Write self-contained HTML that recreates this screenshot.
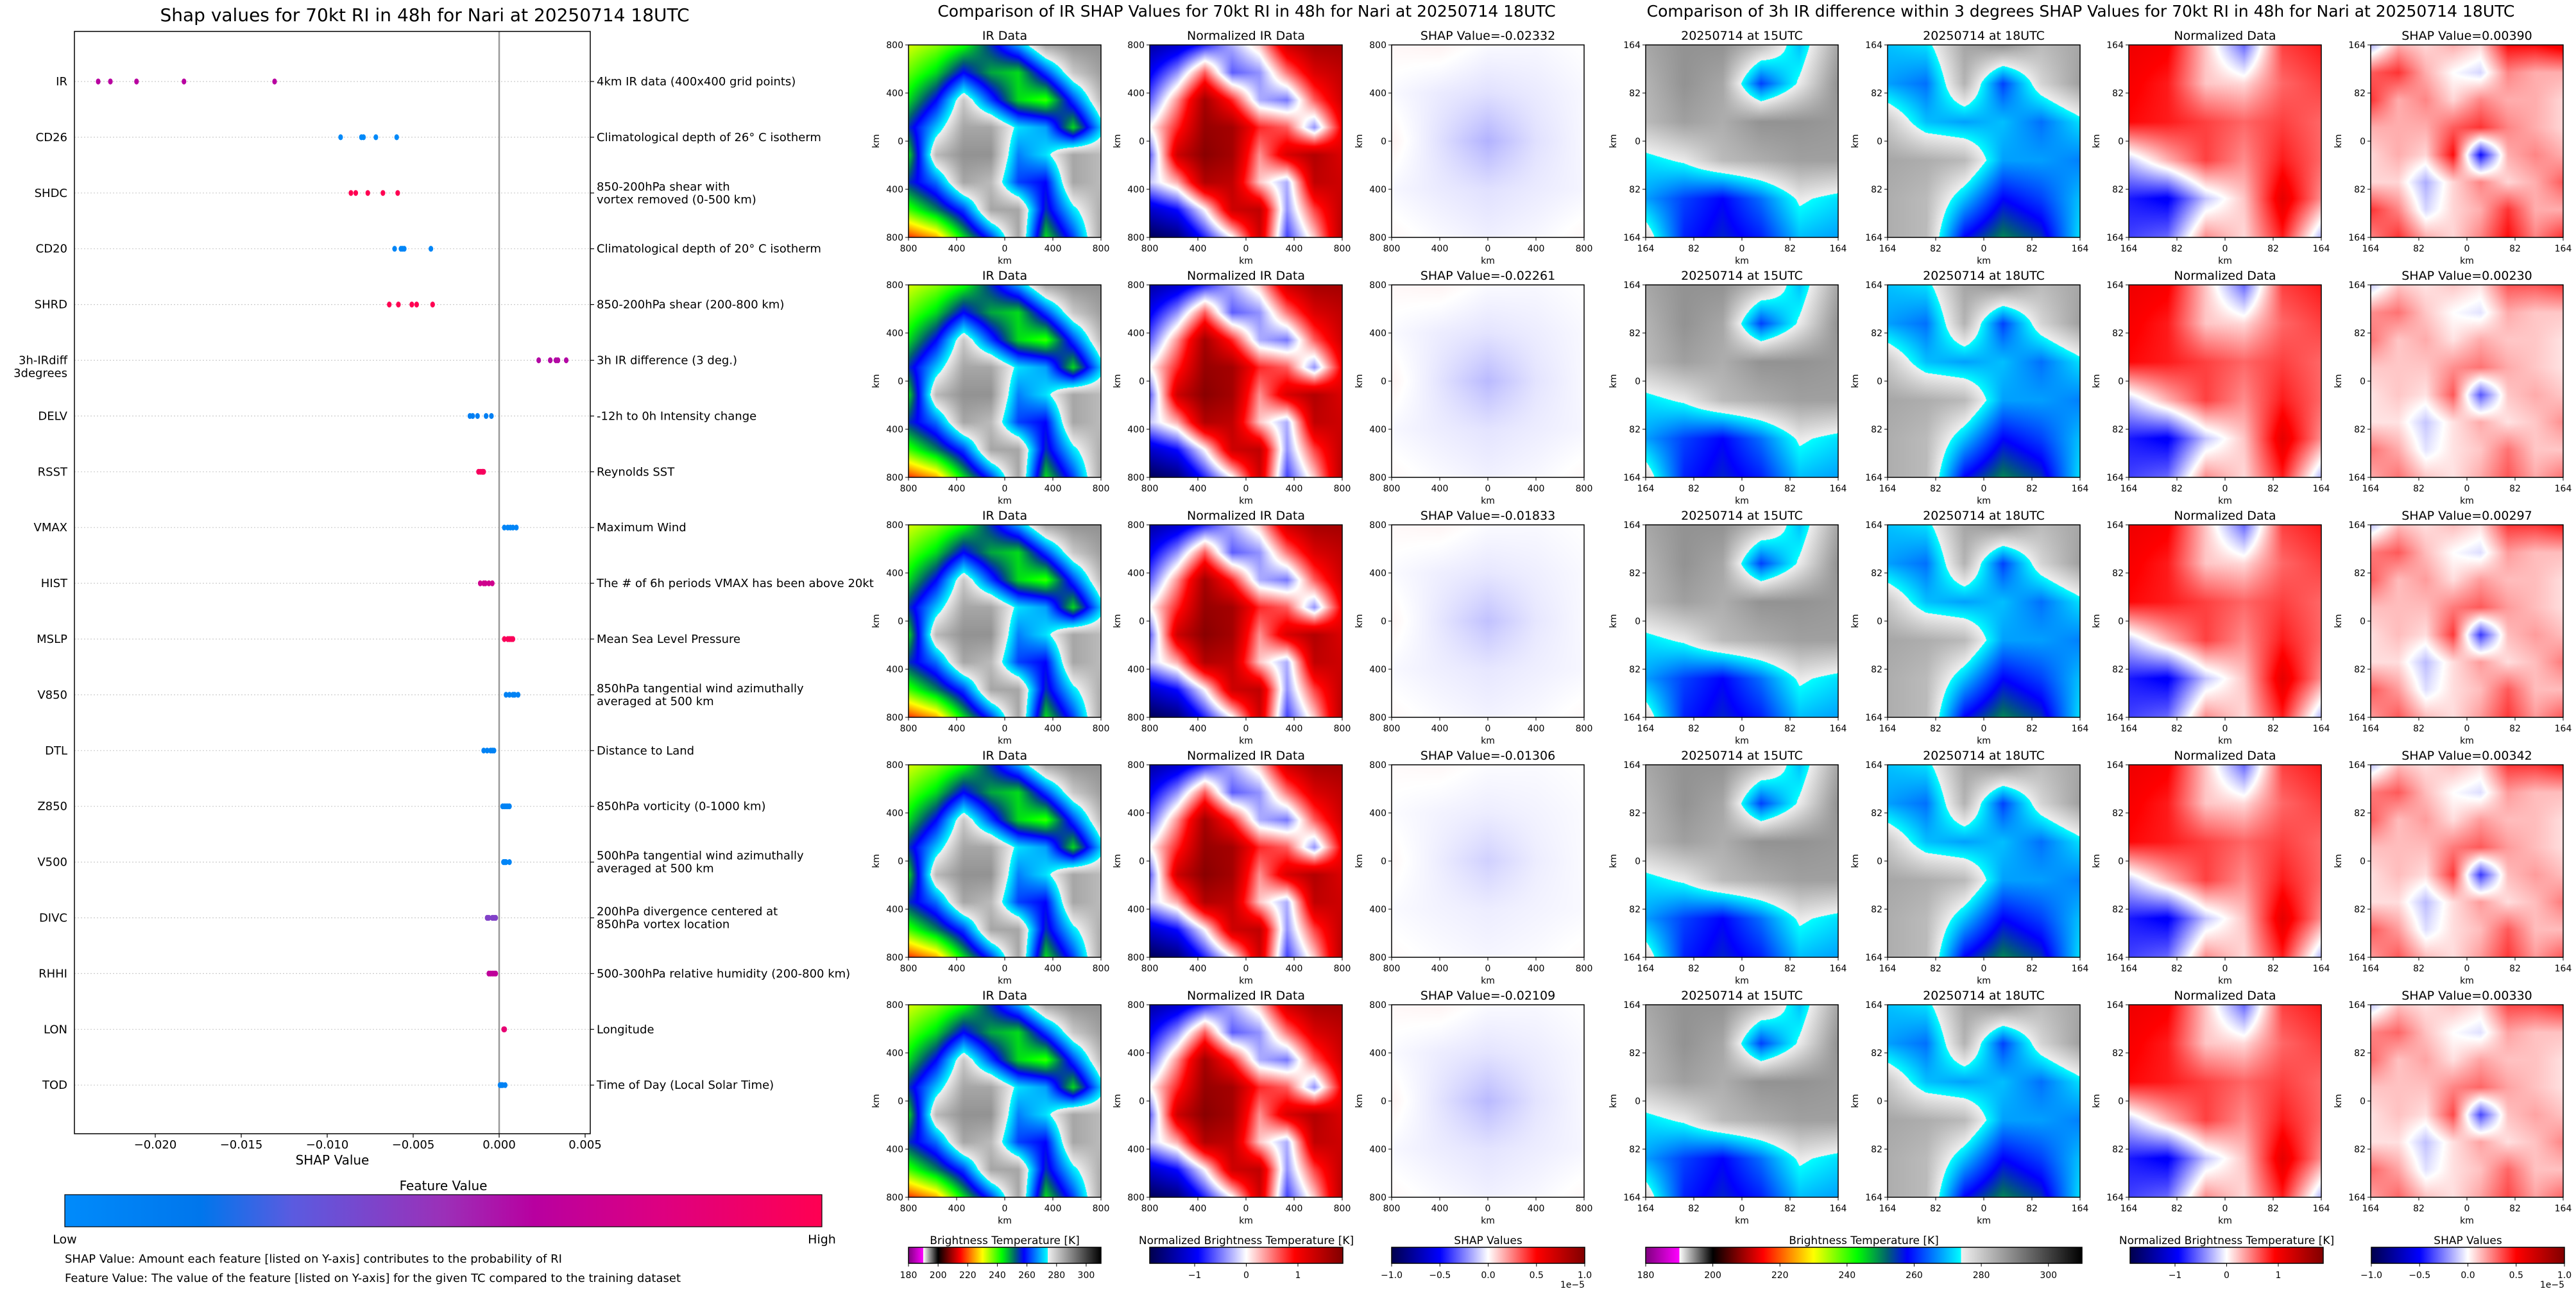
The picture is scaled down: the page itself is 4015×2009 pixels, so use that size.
<!DOCTYPE html>
<html><head><meta charset="utf-8">
<style>
html,body{margin:0;padding:0;background:#fff;}
#root{position:relative;width:4015px;height:2009px;overflow:hidden;background:#fff;font-family:"DejaVu Sans","Liberation Sans",sans-serif;}
canvas{position:absolute;}
#ov{position:absolute;left:0;top:0;}
</style></head>
<body>
<div id="root">
<svg id="ov" width="4015" height="2009" xmlns="http://www.w3.org/2000/svg" font-family="DejaVu Sans, Liberation Sans, sans-serif"></svg>
</div>
<script>
// ---------- SHAP summary chart data ----------
const features = ["IR","CD26","SHDC","CD20","SHRD","3h-IRdiff|3degrees","DELV","RSST","VMAX","HIST","MSLP","V850","DTL","Z850","V500","DIVC","RHHI","LON","TOD"];
const descriptions = ["4km IR data (400x400 grid points)","Climatological depth of 26° C isotherm","850-200hPa shear with|vortex removed (0-500 km)","Climatological depth of 20° C isotherm","850-200hPa shear (200-800 km)","3h IR difference (3 deg.)","-12h to 0h Intensity change","Reynolds SST","Maximum Wind","The # of 6h periods VMAX has been above 20kt","Mean Sea Level Pressure","850hPa tangential wind azimuthally|averaged at 500 km","Distance to Land","850hPa vorticity (0-1000 km)","500hPa tangential wind azimuthally|averaged at 500 km","200hPa divergence centered at|850hPa vortex location","500-300hPa relative humidity (200-800 km)","Longitude","Time of Day (Local Solar Time)"];
const shapIR = [-0.02332,-0.02261,-0.02109,-0.01833,-0.01306];
const shapCD26 = [-0.00922,-0.00801,-0.00789,-0.00717,-0.00596];
const shapSHDC = [-0.00862,-0.00834,-0.00764,-0.00676,-0.00590];
const shapCD20 = [-0.00608,-0.00571,-0.00562,-0.00552,-0.00397];
const shapSHRD = [-0.00639,-0.00586,-0.00508,-0.00480,-0.00387];
const shapIRdiff = [0.00230,0.00297,0.00330,0.00342,0.00390];
const shapDELV = [-0.00170,-0.00154,-0.00126,-0.00076,-0.00045];
const shapRSST = [-0.00120,-0.00110,-0.00100,-0.00095,-0.00090];
const shapVMAX = [0.00030,0.00050,0.00065,0.00080,0.00100];
const shapHIST = [-0.00110,-0.00090,-0.00080,-0.00060,-0.00040];
const shapMSLP = [0.00030,0.00050,0.00060,0.00070,0.00080];
const shapV850 = [0.00040,0.00060,0.00080,0.00090,0.00110];
const shapDTL = [-0.00090,-0.00070,-0.00050,-0.00040,-0.00030];
const shapZ850 = [0.00020,0.00030,0.00040,0.00050,0.00060];
const shapV500 = [0.00025,0.00030,0.00035,0.00040,0.00060];
const shapDIVC = [-0.00070,-0.00060,-0.00040,-0.00030,-0.00020];
const shapRHHI = [-0.00060,-0.00050,-0.00040,-0.00030,-0.00020];
const shapLON = [0.00026,0.00028,0.00030,0.00030,0.00032];
const shapTOD = [0.00005,0.00010,0.00015,0.00020,0.00035];
const featureLevel = [0.62,0.02,1.0,0.05,1.0,0.6,0.1,0.95,0.05,0.72,0.97,0.08,0.08,0.08,0.05,0.42,0.65,0.85,0.08];
const xTicks = [-0.020,-0.015,-0.010,-0.005,0.000,0.005];
// panel SHAP values
const irShapTitles = [-0.02332,-0.02261,-0.01833,-0.01306,-0.02109];
const diffShapTitles = [0.00390,0.00230,0.00297,0.00342,0.00330];
// coarse image fields (top row first)
const gridIR = [
[232,236,242,255,268,285,288,288],
[238,245,258,248,245,262,280,286],
[245,258,280,262,245,240,262,282],
[255,270,285,285,272,268,245,270],
[245,282,288,288,266,272,285,282],
[255,265,285,282,262,258,285,282],
[240,250,262,285,285,255,272,284],
[218,225,245,262,285,245,262,285]];
const gridNorm = [
[-1.4,-1.2,-0.8,-0.3,0.2,1.3,1.6,1.6],
[-1.0,-0.4,0.6,-0.6,-0.4,0.5,1.2,1.4],
[-0.6,0.4,1.6,0.8,-0.3,-0.5,0.6,1.3],
[0.0,0.8,1.7,1.6,0.8,0.6,-0.4,1.0],
[-0.6,1.3,1.8,1.6,0.4,1.2,1.5,1.2],
[-0.2,0.3,1.5,1.4,0.2,-0.3,1.4,1.3],
[-1.2,-0.9,0.0,1.3,1.4,-0.4,0.7,1.4],
[-1.8,-1.6,-0.8,0.0,1.3,-0.7,0.2,1.5]];
const gridIRShap = [
[0.03,0.05,-0.02,-0.03,0.00],
[-0.02,-0.08,-0.12,-0.08,-0.03],
[0.05,-0.12,-0.30,-0.12,-0.03],
[-0.03,-0.08,-0.12,-0.08,-0.04],
[0.03,-0.02,-0.06,-0.03,0.03]];
const grid15 = [
[285,288,288,282,270,285],
[283,288,285,262,275,288],
[282,286,284,288,288,287],
[272,275,282,284,286,286],
[268,262,258,265,275,272],
[278,260,256,260,270,268]];
const grid18 = [
[270,272,285,288,282,285],
[268,265,283,262,278,286],
[280,270,268,270,265,272],
[285,284,282,268,268,266],
[284,282,270,258,262,270],
[284,282,258,250,255,272]];
const gridDiffNorm = [
[1.5,1.4,0.3,-0.8,1.0,1.2],
[1.4,1.2,0.3,0.2,0.8,1.0],
[1.3,1.2,1.0,0.8,1.0,0.8],
[-0.3,0.4,1.0,0.6,1.2,0.8],
[-1.2,-1.4,-0.3,0.3,1.6,0.6],
[-1.0,-0.8,0.6,0.2,1.2,-0.4]];
const gridDiffShap = [
[-0.2,0.2,0.1,0.2,0.1,0.6,0.6,0.7],
[0.4,0.5,0.2,0.0,-0.1,0.3,0.2,0.2],
[0.5,0.2,0.3,0.1,0.3,0.2,0.2,0.1],
[0.2,0.2,0.2,0.4,0.5,0.3,0.2,0.1],
[0.1,0.2,0.1,0.6,-0.6,0.2,0.3,0.2],
[0.1,0.1,-0.2,0.1,0.3,0.1,0.2,0.4],
[0.5,0.3,-0.1,0.1,0.2,0.5,0.2,0.2],
[0.3,0.5,0.2,0.1,0.3,0.6,0.3,0.5]];
const diffShapScale = [0.8,0.55,0.65,0.65,0.6];
const irShapScale = [0.5,0.45,0.4,0.3,0.45];

const allShap = [shapIR,shapCD26,shapSHDC,shapCD20,shapSHRD,shapIRdiff,shapDELV,shapRSST,shapVMAX,shapHIST,shapMSLP,shapV850,shapDTL,shapZ850,shapV500,shapDIVC,shapRHHI,shapLON,shapTOD];

const NS = "http://www.w3.org/2000/svg";
const svg = document.getElementById('ov');
const root = document.getElementById('root');
function mk(tag, attrs, parent){const e=document.createElementNS(NS,tag);for(const k in attrs)e.setAttribute(k,attrs[k]);(parent||svg).appendChild(e);return e;}
function txt(s, attrs, parent){const e=mk('text',attrs,parent);e.textContent=s;return e;}

// ---------- left chart axes ----------
const AX = {l:116, r:920, t:49, b:1767, zero:778, k:26800, y0:127, dy:86.9};
function xs(v){return AX.zero + v*AX.k;}
function ys(i){return AX.y0 + i*AX.dy;}
function lerpHex(a,b,t){const pa=[1,3,5].map(i=>parseInt(a.substr(i,2),16)),pb=[1,3,5].map(i=>parseInt(b.substr(i,2),16));return 'rgb('+pa.map((v,i)=>Math.round(v+(pb[i]-v)*t)).join(',')+')';}
const fvStops=[[0,'#008bfb'],[0.18,'#0076ec'],[0.3,'#5a5be0'],[0.5,'#9b30b8'],[0.62,'#b800a0'],[0.78,'#dc0082'],[1,'#ff0052']];
function fvColor(t){for(let i=1;i<fvStops.length;i++){if(t<=fvStops[i][0]){const a=fvStops[i-1],b=fvStops[i];return lerpHex(a[1],b[1],(t-a[0])/(b[0]-a[0]));}}return '#ff0052';}

let e;
e = txt("Shap values for 70kt RI in 48h for Nari at 20250714 18UTC",{x:662,y:33,'font-size':28,'text-anchor':'middle',fill:'#000'});



const gGrid = mk('g',{});


features.forEach((f,i)=>{
  const l = mk('line',{x1:AX.l,x2:AX.r,y1:ys(i),y2:ys(i),stroke:'#cccccc','stroke-width':1.2,'stroke-dasharray':'2,3'},gGrid);
  
  
});
e = mk('line',{x1:AX.zero,x2:AX.zero,y1:AX.t,y2:AX.b,stroke:'#999999','stroke-width':2.5});


e = mk('rect',{x:AX.l,y:AX.t,width:AX.r-AX.l,height:AX.b-AX.t,fill:'none',stroke:'#000','stroke-width':1.5});



const gLab = mk('g',{'font-size':18,fill:'#000'});


features.forEach((f,i)=>{
  const y=ys(i);
  const parts=f.split('|');
  parts.forEach((p,j)=>{
    const t=txt(p,{x:105,y:y+6+j*20,'text-anchor':'end'},gLab);
    
    
  });
  const tk=mk('line',{x1:AX.r,x2:AX.r+6,y1:y,y2:y,stroke:'#000','stroke-width':1.2},gLab);
  
  
  const d=descriptions[i].split('|');
  d.forEach((p,j)=>{
    const yy = d.length>1 ? y-4+j*20 : y+6;
    const t=txt(p,{x:930,y:yy,'text-anchor':'start'},gLab);
    
    
  });
});

const gDots = mk('g',{});


allShap.forEach((arr,i)=>{
  arr.forEach(v=>{
    const c=mk('ellipse',{cx:xs(v),cy:ys(i),rx:3.6,ry:4.6,fill:fvColor(featureLevel[i])},gDots);
    
    
  });
});

const gX = mk('g',{'font-size':18,fill:'#000'});


xTicks.forEach(v=>{
  const x=xs(v);
  const l=mk('line',{x1:x,x2:x,y1:AX.b,y2:AX.b+6,stroke:'#000','stroke-width':1.2},gX);
  
  
  const t=txt((v<0?'\u2212':'')+Math.abs(v).toFixed(3),{x:x,y:AX.b+23,'text-anchor':'middle'},gX);
  
  
});
e = txt("SHAP Value",{x:518,y:1815,'font-size':20,'text-anchor':'middle'});



// feature value colorbar
const defs = mk('defs',{});
const lg = mk('linearGradient',{id:'fvg',x1:0,x2:1,y1:0,y2:0},defs);
fvStops.forEach(s=>mk('stop',{offset:s[0],'stop-color':s[1]},lg));
e = txt("Feature Value",{x:691,y:1855,'font-size':20,'text-anchor':'middle'});


e = mk('rect',{x:101,y:1862,width:1180,height:50,fill:'url(#fvg)',stroke:'#000','stroke-width':1.2});


e = txt("Low",{x:101,y:1938,'font-size':19,'text-anchor':'middle'});


e = txt("High",{x:1281,y:1938,'font-size':19,'text-anchor':'middle'});


e = txt("SHAP Value: Amount each feature [listed on Y-axis] contributes to the probability of RI",{x:101,y:1968,'font-size':18});


e = txt("Feature Value: The value of the feature [listed on Y-axis] for the given TC compared to the training dataset",{x:101,y:1998,'font-size':18});



// ---------- colormaps ----------
function hx(s){return [1,3,5].map(i=>parseInt(s.substr(i,2),16));}
const btStops=[[180,'#800080'],[189.99,'#ff00ff'],[190,'#ffffff'],[200,'#000000'],[208,'#8b0000'],[215,'#ff0000'],[223,'#ff8c00'],[230,'#ffff00'],[243,'#00ff00'],[252,'#006070'],[258,'#0000ff'],[266,'#0080ff'],[273.99,'#00ffff'],[274,'#f0f0f0'],[310,'#000000']];
const sesStops=[[-1,'#00004c'],[-0.5,'#0000ff'],[0,'#ffffff'],[0.5,'#ff0000'],[1,'#800000']];
function cmap(stops,v){
  if(v<=stops[0][0])return hx(stops[0][1]);
  for(let i=1;i<stops.length;i++){if(v<=stops[i][0]){const a=stops[i-1],b=stops[i];const t=(v-a[0])/(b[0]-a[0]);const ca=hx(a[1]),cb=hx(b[1]);return ca.map((c,k)=>c+(cb[k]-c)*t);}}
  return hx(stops[stops.length-1][1]);
}
function drawField(x,y,grid,fn,name){
  const c=document.createElement('canvas');c.width=300;c.height=300;
  c.style.left=x+'px';c.style.top=y+'px';
  
  
  root.insertBefore(c,svg);
  const ctx=c.getContext('2d');const im=ctx.createImageData(300,300);
  const R=grid.length,C=grid[0].length;
  for(let py=0;py<300;py++){const gy=py/299*(R-1);const y0=Math.min(Math.floor(gy),R-2);const ty=gy-y0;
    for(let px=0;px<300;px++){const gx=px/299*(C-1);const x0=Math.min(Math.floor(gx),C-2);const tx=gx-x0;
      const v=(grid[y0][x0]*(1-tx)+grid[y0][x0+1]*tx)*(1-ty)+(grid[y0+1][x0]*(1-tx)+grid[y0+1][x0+1]*tx)*ty;
      const col=fn(v);const o=(py*300+px)*4;im.data[o]=col[0];im.data[o+1]=col[1];im.data[o+2]=col[2];im.data[o+3]=255;}}
  ctx.putImageData(im,0,0);
}
const btFn=v=>cmap(btStops,v);
const normFn=v=>cmap(sesStops,v/1.87);
const diffNormFn=v=>cmap(sesStops,v*0.7/1.87);
function shapFn(s){return v=>cmap(sesStops,v*s);}

// ---------- panel axes ----------
function panelAxes(x,y,title,labels,name){
  const g=mk('g',{'font-size':14,fill:'#000'});
  
  
  const t=txt(title,{x:x+150,y:y-8,'font-size':19,'text-anchor':'middle'},g);
  
  
  const f=mk('rect',{x:x,y:y,width:300,height:300,fill:'none',stroke:'#000','stroke-width':1.5},g);
  
  
  labels.forEach((s,i)=>{
    const p=i*75;
    const a=mk('line',{x1:x-5,x2:x,y1:y+p,y2:y+p,stroke:'#000'},g);
    
    
    const b=txt(s,{x:x-8,y:y+p+5,'text-anchor':'end'},g);
    
    
    const c=mk('line',{x1:x+p,x2:x+p,y1:y+300,y2:y+305,stroke:'#000'},g);
    
    
    const d=txt(s,{x:x+p,y:y+322,'text-anchor':'middle'},g);
    
    
  });
  const xl=txt('km',{x:x+150,y:y+341,'text-anchor':'middle'},g);
  
  
  const yl=txt('km',{x:0,y:0,'text-anchor':'middle',transform:'translate('+(x-46)+','+(y+150)+') rotate(-90)'},g);
  
  
}
const leftCols=[1416,1792,2169], rightCols=[2565,2942,3318,3695], rowTops=[70,444,818,1192,1566];
const kmL=['800','400','0','400','800'], kmR=['164','82','0','82','164'];

e = txt("Comparison of IR SHAP Values for 70kt RI in 48h for Nari at 20250714 18UTC",{x:1943,y:26,'font-size':25,'text-anchor':'middle'});


e = txt("Comparison of 3h IR difference within 3 degrees SHAP Values for 70kt RI in 48h for Nari at 20250714 18UTC",{x:3243,y:26,'font-size':25,'text-anchor':'middle'});



rowTops.forEach((y,r)=>{
  drawField(leftCols[0],y,gridIR,btFn,'ir-data-image');
  drawField(leftCols[1],y,gridNorm,normFn,'normalized-ir-image');
  drawField(leftCols[2],y,gridIRShap,shapFn(irShapScale[r]),'ir-shap-image');
  panelAxes(leftCols[0],y,'IR Data',kmL,'ir-data-panel');
  panelAxes(leftCols[1],y,'Normalized IR Data',kmL,'normalized-ir-panel');
  panelAxes(leftCols[2],y,'SHAP Value='+irShapTitles[r].toFixed(5),kmL,'ir-shap-panel');
  drawField(rightCols[0],y,grid15,btFn,'ir-15utc-image');
  drawField(rightCols[1],y,grid18,btFn,'ir-18utc-image');
  drawField(rightCols[2],y,gridDiffNorm,diffNormFn,'normalized-diff-image');
  drawField(rightCols[3],y,gridDiffShap,shapFn(diffShapScale[r]),'diff-shap-image');
  panelAxes(rightCols[0],y,'20250714 at 15UTC',kmR,'ir-15utc-panel');
  panelAxes(rightCols[1],y,'20250714 at 18UTC',kmR,'ir-18utc-panel');
  panelAxes(rightCols[2],y,'Normalized Data',kmR,'normalized-diff-panel');
  panelAxes(rightCols[3],y,'SHAP Value='+diffShapTitles[r].toFixed(5),kmR,'diff-shap-panel');
});

// ---------- bottom colorbars ----------
const btTicks=[180,200,220,240,260,280,300];
const normTicks=[-1,0,1];
const shapTicks=[-1.0,-0.5,0.0,0.5,1.0];
let gid=0;
function colorbar(x,w,title,stops,lo,hi,ticks,fmt,sci,name){
  const g=mk('g',{'font-size':14,fill:'#000'});
  
  
  const id='cb'+(gid++);
  const lgr=mk('linearGradient',{id:id,x1:0,x2:1,y1:0,y2:0},defs);
  stops.forEach(s=>{const o=(s[0]-lo)/(hi-lo);if(o>=0&&o<=1)mk('stop',{offset:o,'stop-color':s[1]},lgr);});
  const t=txt(title,{x:x+w/2,y:1939,'font-size':17,'text-anchor':'middle'},g);
  
  
  const r=mk('rect',{x:x,y:1944,width:w,height:25,fill:'url(#'+id+')',stroke:'#000','stroke-width':1.5},g);
  
  
  ticks.forEach(v=>{
    const px=x+(v-lo)/(hi-lo)*w;
    const l=mk('line',{x1:px,x2:px,y1:1969,y2:1974,stroke:'#000'},g);
    
    
    const s=txt(fmt(v),{x:px,y:1992,'text-anchor':'middle'},g);
    
    
  });
  if(sci){const s=txt('1e\u22125',{x:x+w,y:2007,'text-anchor':'end'},g);
    
    }
}
const sesAbs=(r)=>sesStops.map(s=>[s[0]*r,s[1]]);
const fmtInt=v=>(v<0?'\u2212':'')+Math.abs(v);
const fmt1=v=>(v<0?'\u2212':'')+Math.abs(v).toFixed(1);
colorbar(1416,300,'Brightness Temperature [K]',btStops,180,310,btTicks,fmtInt,false,'bt-colorbar-left');
colorbar(1792,301,'Normalized Brightness Temperature [K]',sesAbs(1.87),-1.87,1.87,normTicks,fmtInt,false,'norm-colorbar-left');
colorbar(2169,301,'SHAP Values',sesStops,-1,1,shapTicks,fmt1,true,'shap-colorbar-left');
colorbar(2565,680,'Brightness Temperature [K]',btStops,180,310,btTicks,fmtInt,false,'bt-colorbar-right');
colorbar(3320,301,'Normalized Brightness Temperature [K]',sesAbs(1.87),-1.87,1.87,normTicks,fmtInt,false,'norm-colorbar-right');
colorbar(3696,301,'SHAP Values',sesStops,-1,1,shapTicks,fmt1,true,'shap-colorbar-right');
</script>
</body></html>
